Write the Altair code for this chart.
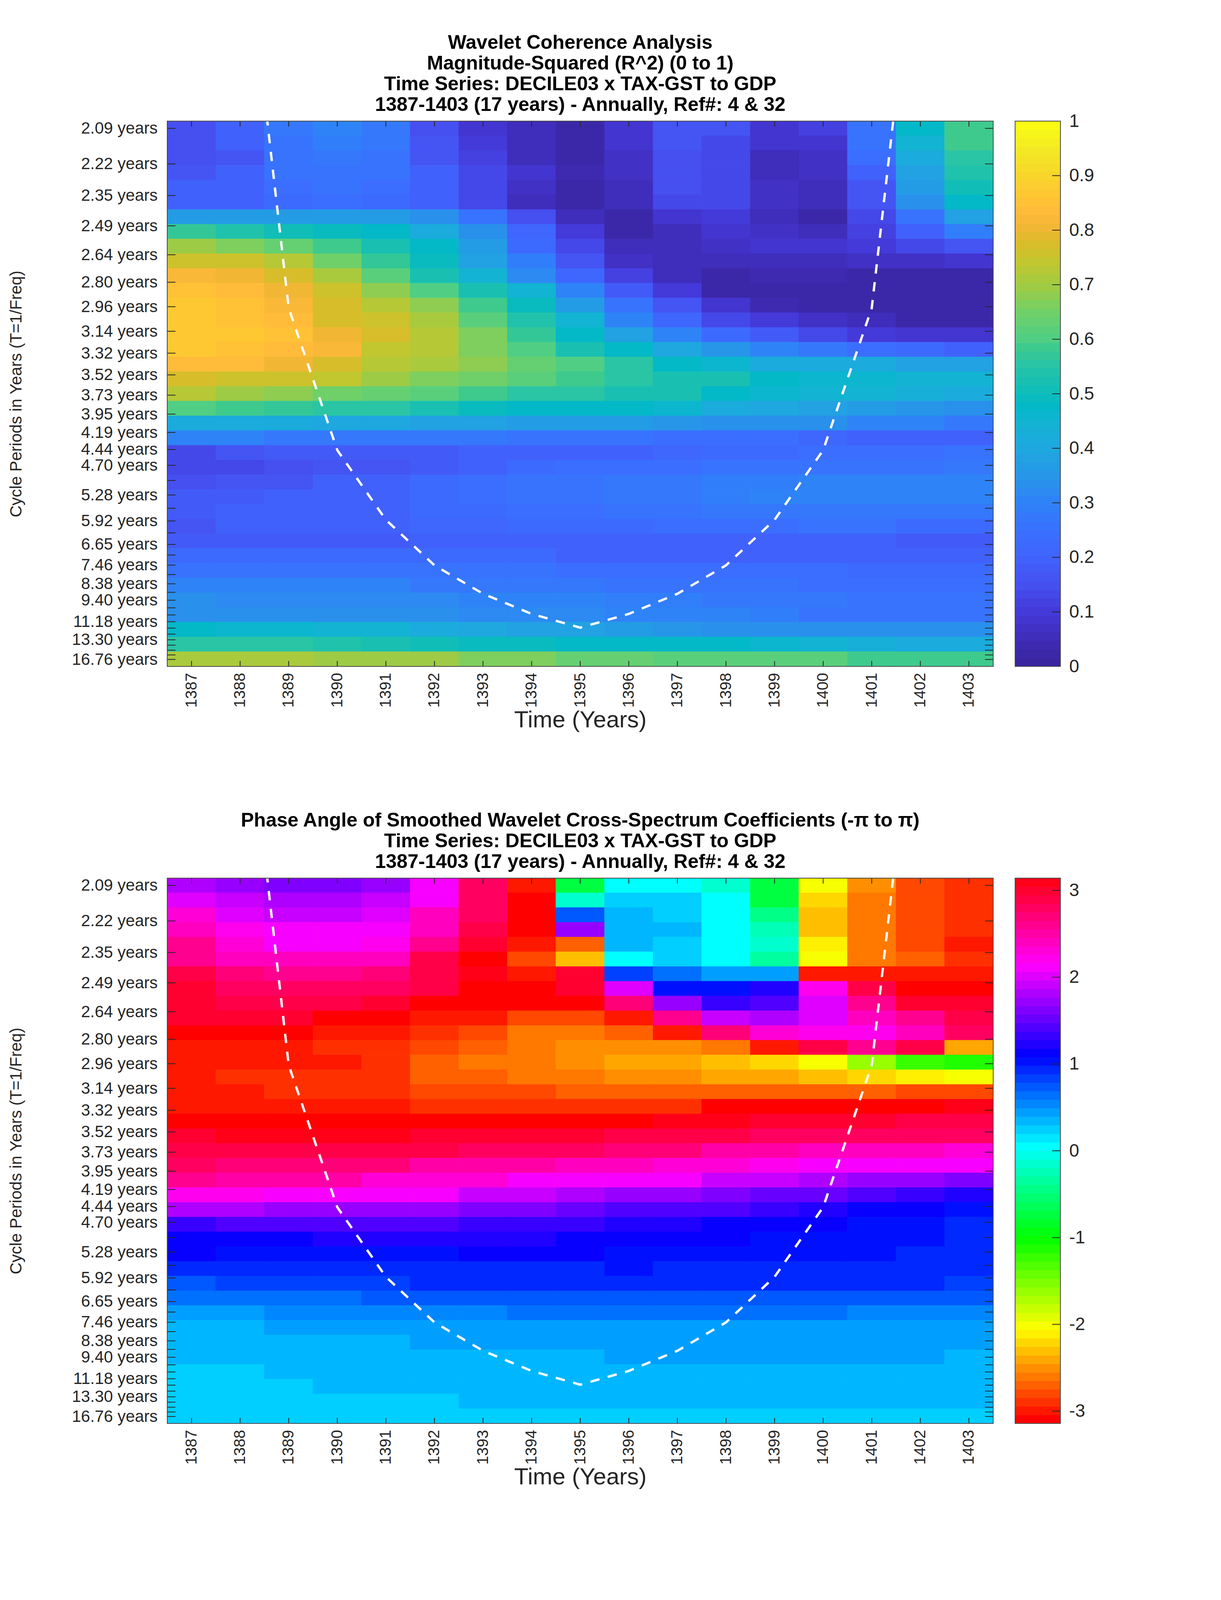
import altair as alt
import colorsys

FONT = "Liberation Sans"
INK = "#262626"
FRAME = "#4a4a4a"
W, H, CW = 2114, 1396, 116
TLX, TLY = 21, 14

years = list(range(1387, 1404))
periods = ["2.09","2.22","2.35","2.49","2.64","2.80","2.96","3.14","3.32","3.52","3.73","3.95","4.19","4.44","4.70",
           "4.98","5.28","5.59","5.92","6.27","6.65","7.04","7.46","7.90","8.38","8.88","9.40","9.96","10.55","11.18",
           "11.85","12.55","13.30","14.09","14.93","15.81","16.76"]
labelled = ["2.09","2.22","2.35","2.49","2.64","2.80","2.96","3.14","3.32","3.52","3.73","3.95","4.19","4.44","4.70",
            "5.28","5.92","6.65","7.46","8.38","9.40","11.18","13.30","16.76"]
freq_top, freq_bottom = 0.4842, 0.0542

coherence = [
[.15,.20,.27,.31,.28,.15,.09,.06,.03,.09,.17,.16,.09,.11,.25,.47,.59],
[.15,.20,.26,.29,.27,.16,.10,.06,.03,.08,.16,.14,.08,.09,.25,.44,.58],
[.15,.17,.25,.28,.26,.17,.11,.06,.03,.07,.15,.14,.06,.07,.24,.42,.55],
[.17,.20,.25,.26,.25,.19,.13,.08,.04,.07,.15,.14,.06,.07,.19,.39,.54],
[.20,.20,.24,.25,.24,.20,.14,.07,.03,.06,.15,.13,.07,.05,.17,.36,.50],
[.20,.20,.23,.24,.23,.20,.13,.06,.03,.06,.13,.13,.07,.05,.16,.33,.47],
[.37,.37,.37,.36,.36,.33,.25,.15,.06,.03,.09,.10,.05,.03,.13,.26,.38],
[.57,.54,.51,.49,.47,.41,.33,.21,.10,.03,.06,.08,.07,.05,.11,.19,.29],
[.70,.66,.63,.58,.53,.47,.36,.23,.13,.05,.05,.07,.08,.08,.10,.13,.17],
[.76,.75,.72,.65,.57,.49,.39,.29,.17,.07,.05,.05,.06,.06,.07,.07,.09],
[.82,.81,.77,.71,.61,.53,.45,.32,.21,.11,.05,.03,.04,.04,.03,.03,.03],
[.85,.83,.80,.75,.68,.60,.53,.44,.30,.18,.10,.03,.02,.02,.02,.02,.02],
[.86,.85,.82,.77,.73,.68,.59,.49,.36,.26,.16,.08,.04,.02,.02,.02,.02],
[.86,.85,.84,.78,.75,.71,.62,.54,.45,.31,.21,.14,.10,.07,.05,.03,.03],
[.86,.87,.85,.81,.77,.73,.67,.57,.48,.38,.30,.23,.18,.14,.10,.08,.08],
[.86,.85,.83,.82,.74,.72,.67,.60,.53,.47,.40,.35,.30,.27,.24,.22,.20],
[.84,.83,.81,.77,.73,.71,.68,.64,.60,.55,.48,.46,.42,.41,.41,.38,.38],
[.77,.76,.75,.74,.70,.67,.65,.62,.59,.56,.53,.52,.47,.46,.46,.45,.44],
[.72,.70,.68,.65,.64,.61,.59,.56,.55,.52,.52,.47,.46,.45,.44,.43,.41],
[.60,.58,.57,.55,.55,.52,.49,.48,.47,.47,.46,.42,.40,.39,.37,.35,.34],
[.42,.42,.42,.40,.40,.39,.38,.37,.37,.36,.35,.34,.33,.33,.30,.30,.28],
[.30,.30,.28,.28,.28,.28,.27,.25,.25,.25,.24,.24,.24,.21,.20,.20,.20],
[.14,.17,.18,.18,.18,.18,.20,.20,.20,.20,.21,.22,.22,.24,.24,.24,.25],
[.13,.13,.15,.17,.17,.18,.20,.23,.24,.24,.24,.25,.26,.26,.26,.26,.27],
[.15,.17,.17,.20,.20,.22,.24,.25,.26,.27,.27,.29,.29,.30,.30,.30,.30],
[.18,.18,.20,.20,.20,.23,.24,.25,.26,.28,.28,.29,.30,.31,.31,.31,.31],
[.18,.20,.20,.20,.20,.22,.22,.24,.24,.26,.26,.28,.28,.28,.28,.27,.27],
[.17,.20,.20,.20,.20,.21,.21,.22,.22,.22,.24,.24,.24,.25,.25,.23,.23],
[.18,.18,.18,.18,.18,.19,.19,.19,.20,.20,.20,.20,.20,.20,.20,.18,.18],
[.22,.22,.22,.22,.22,.22,.22,.22,.20,.20,.20,.20,.20,.20,.20,.20,.20],
[.26,.26,.26,.26,.26,.26,.26,.25,.24,.24,.24,.24,.24,.24,.22,.22,.22],
[.30,.30,.30,.30,.30,.28,.28,.28,.28,.25,.25,.25,.25,.24,.24,.24,.24],
[.34,.32,.32,.32,.32,.32,.31,.31,.31,.29,.29,.27,.27,.27,.25,.25,.25],
[.34,.34,.33,.33,.33,.33,.32,.32,.32,.31,.30,.30,.29,.26,.26,.26,.26],
[.47,.46,.46,.44,.44,.41,.40,.39,.38,.37,.35,.34,.34,.34,.33,.33,.33],
[.56,.55,.55,.54,.53,.51,.49,.49,.48,.48,.47,.47,.46,.45,.43,.42,.42],
[.71,.71,.71,.69,.69,.69,.66,.66,.64,.64,.61,.61,.61,.61,.59,.59,.59],
]

phase = [
[1.83,1.76,1.64,1.62,1.70,2.09,2.81,-2.95,-.70,0,0,-.15,-.72,-2.04,-2.55,-2.79,-2.93],
[2.05,1.90,1.83,1.83,1.90,2.15,2.80,-3.14,-.12,.20,.20,0,-.70,-2.20,-2.62,-2.79,-2.93],
[2.33,2.05,1.95,1.95,2.03,2.40,2.80,-3.14,.78,.33,.23,.08,-.40,-2.27,-2.62,-2.79,-2.93],
[2.40,2.20,2.10,2.10,2.15,2.45,2.88,-3.14,1.76,.33,.33,.08,-.20,-2.30,-2.62,-2.79,-2.93],
[2.60,2.30,2.15,2.15,2.25,2.65,2.95,-3.00,-2.70,.33,.20,.08,-.15,-2.10,-2.62,-2.79,-3.00],
[2.65,2.45,2.40,2.40,2.45,2.88,-3.14,-2.80,-2.27,.08,.20,.08,-.35,-1.98,-2.62,-2.74,-2.88],
[2.88,2.72,2.65,2.65,2.72,2.88,3.05,-3.00,3.00,.85,.60,.47,.47,-3.00,-2.95,-3.03,-3.03],
[2.95,2.82,2.82,2.82,2.82,2.90,-3.14,-3.14,3.02,2.05,1.05,1.02,1.20,2.25,2.90,-3.14,-3.14],
[3.00,2.90,2.90,2.90,3.00,-3.14,-3.05,-3.05,-3.14,2.72,1.76,1.35,1.45,2.05,2.60,2.95,3.00],
[3.00,3.00,3.00,-3.14,-3.14,-3.00,-2.95,-2.80,-2.80,-3.00,2.65,1.95,1.85,2.05,2.40,2.60,2.88],
[-3.14,-3.14,-3.14,-3.00,-3.00,-2.92,-2.80,-2.65,-2.60,-2.70,-2.95,2.72,2.30,2.20,2.25,2.45,2.75],
[-3.00,-3.00,-3.00,-2.90,-2.90,-2.80,-2.70,-2.60,-2.50,-2.50,-2.50,-2.60,-2.95,2.85,2.60,2.85,-2.45],
[-2.98,-2.98,-2.95,-2.95,-2.85,-2.72,-2.62,-2.62,-2.52,-2.43,-2.43,-2.30,-2.20,-2.00,-1.60,-1.25,-1.15],
[-2.98,-2.88,-2.88,-2.88,-2.85,-2.72,-2.72,-2.62,-2.62,-2.50,-2.50,-2.42,-2.42,-2.30,-2.20,-2.10,-2.00],
[-2.98,-2.98,-2.92,-2.92,-2.92,-2.80,-2.80,-2.80,-2.72,-2.72,-2.72,-2.72,-2.72,-2.72,-2.72,-2.80,-2.80],
[-2.98,-2.98,-2.98,-2.98,-2.98,-2.92,-2.92,-2.92,-2.92,-2.92,-2.92,-3.05,-3.05,-3.05,-3.14,-3.14,3.05],
[-3.14,-3.14,-3.14,-3.14,-3.14,-3.14,-3.14,-3.14,-3.14,-3.14,3.08,3.08,2.95,2.95,2.95,2.90,2.90],
[3.00,3.08,3.08,3.08,3.08,2.98,2.98,2.98,2.98,2.90,2.90,2.90,2.82,2.82,2.82,2.75,2.75],
[2.90,2.90,2.90,2.90,2.90,2.90,2.82,2.82,2.82,2.68,2.68,2.55,2.55,2.45,2.45,2.45,2.30],
[2.82,2.68,2.68,2.68,2.68,2.50,2.50,2.50,2.45,2.45,2.30,2.30,2.20,2.09,2.09,2.09,2.09],
[2.65,2.50,2.50,2.50,2.33,2.33,2.33,2.12,2.12,2.12,2.12,1.95,1.95,1.82,1.72,1.72,1.60],
[2.25,2.25,2.12,2.12,2.12,2.12,1.95,1.95,1.85,1.72,1.72,1.65,1.57,1.57,1.43,1.35,1.25],
[1.85,1.85,1.72,1.72,1.72,1.72,1.62,1.62,1.48,1.38,1.38,1.38,1.33,1.25,1.13,1.13,1.05],
[1.28,1.43,1.43,1.43,1.43,1.43,1.33,1.33,1.33,1.25,1.25,1.15,1.15,1.15,1.05,1.05,.98],
[1.13,1.13,1.13,1.22,1.22,1.22,1.22,1.22,1.13,1.13,1.13,1.13,1.05,1.05,1.05,1.05,.98],
[1.08,1.05,1.05,1.05,1.05,1.05,1.13,1.13,1.13,1.05,1.05,1.05,1.05,1.05,1.05,.98,.98],
[.92,.92,.98,.98,.98,.98,.98,.98,.98,1.05,.98,.98,.98,.98,.98,.98,.98],
[.75,.80,.80,.80,.80,.92,.92,.92,.92,.92,.92,.92,.92,.92,.92,.92,.82],
[.63,.63,.63,.63,.75,.75,.75,.75,.75,.75,.75,.75,.75,.75,.75,.75,.75],
[.45,.45,.55,.55,.55,.55,.55,.63,.63,.63,.63,.63,.63,.63,.55,.55,.55],
[.35,.35,.42,.42,.42,.42,.42,.42,.42,.42,.42,.42,.42,.42,.42,.42,.42],
[.35,.35,.35,.35,.35,.42,.42,.42,.42,.42,.42,.42,.42,.42,.42,.42,.42],
[.30,.30,.30,.30,.30,.30,.30,.30,.30,.42,.42,.42,.42,.42,.42,.42,.30],
[.20,.20,.30,.30,.30,.30,.30,.30,.30,.30,.30,.30,.30,.30,.30,.30,.30],
[.20,.20,.20,.30,.30,.30,.30,.30,.30,.30,.30,.30,.30,.30,.30,.30,.30],
[.20,.20,.20,.20,.20,.20,.30,.30,.30,.30,.30,.30,.30,.30,.30,.30,.30],
[.20,.20,.20,.20,.20,.20,.20,.20,.20,.20,.20,.20,.20,.20,.20,.20,.20],
]

coi_years = [1388,1389,1390,1391,1392,1393,1394,1395,1396,1397,1398,1399,1400,1401,1402]
coi_periods = [1.49,2.97,4.45,5.89,7.47,8.97,10.46,11.80,10.46,8.97,7.47,5.89,4.45,2.97,1.49]

anchor_pos = [0,.05,.10,.15,.20,.25,.30,.35,.40,.45,.475,.50,.55,.58,.60,.65,.70,.75,.78,.80,.83,.86,.90,.95,1]
anchor_col = ["#38249a","#3f2cb8","#4438d8","#4650f0","#4063fd","#3a70ff","#2f82f8","#2795e8","#1fa8e0","#12b4d2",
              "#02b8c8","#0cbdba","#27c4a8","#38c890","#4fcf85","#70d068","#a2cb42","#c8c52c","#dcbb2a","#eeb733",
              "#ffb83a","#ffc535","#f9d52b","#f3ea23","#fbff10"]

def rgb(h):
    return [int(h[i:i+2], 16) for i in (1, 3, 5)]

def ramp(pos, cols, n=64):
    out = []
    for i in range(n):
        t = (i + .5) / n
        for k in range(len(pos) - 1):
            if pos[k] <= t <= pos[k + 1]:
                f = (t - pos[k]) / (pos[k + 1] - pos[k])
                a, b = rgb(cols[k]), rgb(cols[k + 1])
                out.append("#%02x%02x%02x" % tuple(round(a[j] + f * (b[j] - a[j])) for j in range(3)))
                break
    return out

parula_like = ramp(anchor_pos, anchor_col)
hsv_map = ["#%02x%02x%02x" % tuple(round(255 * c) for c in colorsys.hsv_to_rgb(i / 64, 1, 1)) for i in range(64)]

fstep = (freq_top - freq_bottom) / len(periods)
x_scale = alt.Scale(domain=[1386.5, 1403.5], nice=False, zero=False)
y_scale = alt.Scale(domain=[freq_bottom, freq_top], nice=False, zero=False)
label_list = "[" + ",".join("'%s'" % p for p in labelled) + "]"
x_enc = alt.X("x0:Q", scale=x_scale, title="Time (Years)",
              axis=alt.Axis(values=years, format="d", labelAngle=270, labelAlign="right", labelBaseline="middle",
                            labelFontSize=40, labelPadding=16, ticks=False, domain=False, grid=False, labelOverlap=False,
                            labelFlush=False, titlePadding=4, maxExtent=600, titleFontSize=60))
y_enc = alt.Y("y0:Q", scale=y_scale, title="Cycle Periods in Years (T=1/Freq)",
              axis=alt.Axis(values=[1 / float(p) for p in periods],
                            labelExpr="indexof(" + label_list + ",format(1/datum.value,'.2f'))>=0?format(1/datum.value,'.2f')+' years':''",
                            labelFontSize=42, labelPadding=25, labelLimit=600, ticks=False, domain=False, grid=False,
                            labelOverlap=False, labelFlush=False, titlePadding=120, maxExtent=600, titleFontSize=42))


def frame(width):
    return alt.Chart(alt.Data(values=[{}])).mark_rect(fill=None, stroke=FRAME, strokeWidth=2).encode(
        x=alt.value(0), x2=alt.value(width), y=alt.value(0), y2=alt.value(H))


def panel(values, cmap, dom, title):
    cells = []
    for r, row in enumerate(values):
        for c, v in enumerate(row):
            cells.append({"x0": years[c] - .5, "x1": years[c] + .5,
                          "y0": freq_top - r * fstep, "y1": freq_top - (r + 1) * fstep, "v": v})
    qs = alt.Scale(type="quantize", domain=dom, range=cmap)
    heat = alt.Chart(alt.Data(values=cells)).mark_rect(strokeWidth=1, clip=True).encode(
        x=x_enc, x2="x1:Q", y=y_enc, y2="y1:Q",
        color=alt.Color("v:Q", scale=qs, legend=None),
        stroke=alt.Stroke("v:Q", scale=qs, legend=None))
    ticks_y = alt.Data(values=[{"y0": 1 / float(p)} for p in periods])
    ticks_x = alt.Data(values=[{"x0": y} for y in years])
    tk = dict(color=INK, strokeWidth=2)
    layers = [heat,
              alt.Chart(ticks_y).mark_rule(**tk).encode(y=y_enc, x=alt.value(0), x2=alt.value(TLX)),
              alt.Chart(ticks_y).mark_rule(**tk).encode(y=y_enc, x=alt.value(W - TLX), x2=alt.value(W)),
              alt.Chart(ticks_x).mark_rule(**tk).encode(x=x_enc, y=alt.value(0), y2=alt.value(TLY)),
              alt.Chart(ticks_x).mark_rule(**tk).encode(x=x_enc, y=alt.value(H - TLY), y2=alt.value(H))]
    coi = [{"x0": a, "y0": 1 / b} for a, b in zip(coi_years, coi_periods)]
    layers.append(alt.Chart(alt.Data(values=coi)).mark_line(color="white", strokeWidth=6, strokeDash=[24, 22], clip=True)
                  .encode(x=x_enc, y=y_enc))
    layers.append(frame(W))
    return alt.layer(*layers).properties(
        width=W, height=H,
        title=alt.TitleParams(title, font=FONT, fontSize=50, fontWeight="bold", color="black", lineHeight=53,
                              anchor="middle", offset=14))


def colorbar(cmap, dom, tick_vals, labels):
    n = len(cmap)
    step = (dom[1] - dom[0]) / n
    cells = [{"a": dom[0] + i * step, "b": dom[0] + (i + 1) * step, "m": dom[0] + (i + .5) * step} for i in range(n)]
    sc = alt.Scale(domain=dom, nice=False, zero=False)
    lab = {str(k): v for k, v in zip(tick_vals, labels)}
    expr = "{" + ",".join("'%s':'%s'" % (k, v) for k, v in lab.items()) + "}[''+datum.value]"
    y = alt.Y("a:Q", scale=sc, title=None,
              axis=alt.Axis(orient="right", values=tick_vals, labelExpr=expr, labelFontSize=46, labelPadding=22, ticks=False,
                            domain=False, grid=False, labelOverlap=False, labelFlush=False))
    qs = alt.Scale(type="quantize", domain=dom, range=cmap)
    bar = alt.Chart(alt.Data(values=cells)).mark_rect(strokeWidth=1, clip=True).encode(
        x=alt.value(0), x2=alt.value(CW), y=y, y2="b:Q",
        color=alt.Color("m:Q", scale=qs, legend=None),
        stroke=alt.Stroke("m:Q", scale=qs, legend=None))
    t = alt.Chart(alt.Data(values=[{"a": v} for v in tick_vals])).mark_rule(color=INK, strokeWidth=2).encode(
        y=y, x=alt.value(CW - TLX), x2=alt.value(CW))
    return alt.layer(bar, t, frame(CW)).properties(width=CW, height=H)


title1 = ["Wavelet Coherence Analysis", "Magnitude-Squared (R^2) (0 to 1)",
          "Time Series: DECILE03 x TAX-GST to GDP", "1387-1403 (17 years) - Annually, Ref#: 4 & 32"]
title2 = ["Phase Angle of Smoothed Wavelet Cross-Spectrum Coefficients (-\u03c0 to \u03c0)",
          "Time Series: DECILE03 x TAX-GST to GDP", "1387-1403 (17 years) - Annually, Ref#: 4 & 32"]

tv1 = [0, .1, .2, .3, .4, .5, .6, .7, .8, .9, 1]
tl1 = ["0", "0.1", "0.2", "0.3", "0.4", "0.5", "0.6", "0.7", "0.8", "0.9", "1"]
tv2 = [-3, -2, -1, 0, 1, 2, 3]
tl2 = ["-3", "-2", "-1", "0", "1", "2", "3"]
PI = 3.14159265

row1 = alt.hconcat(panel(coherence, parula_like, [0, 1], title1), colorbar(parula_like, [0, 1], tv1, tl1),
                   spacing=56, bounds="flush").resolve_scale(color="independent", stroke="independent")
row2 = alt.hconcat(panel(phase, hsv_map, [-PI, PI], title2), colorbar(hsv_map, [-PI, PI], tv2, tl2),
                   spacing=56, bounds="flush").resolve_scale(color="independent", stroke="independent")
chart = alt.vconcat(row1, row2, spacing=201).resolve_scale(color="independent", stroke="independent").properties(
    padding={"left": 12, "top": 76, "right": 20, "bottom": 20}, background="white"
).configure_view(stroke=None).configure_axis(
    labelFont=FONT, titleFont=FONT, labelColor=INK, titleColor=INK, titleFontWeight="normal"
).configure_text(font=FONT)

chart.save("out.html", embed_options={"renderer": "svg", "actions": False})
